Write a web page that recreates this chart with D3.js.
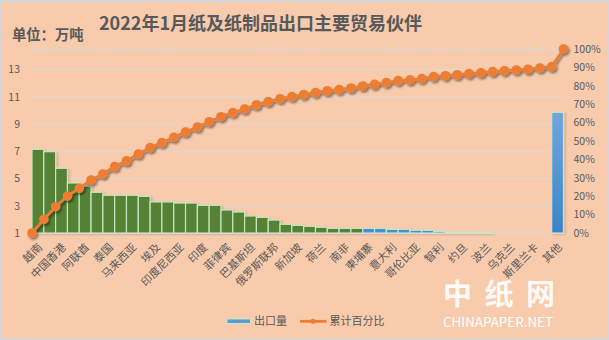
<!DOCTYPE html>
<html><head><meta charset="utf-8">
<script src="https://cdn.jsdelivr.net/npm/d3@7/dist/d3.min.js"></script>
<style>
html,body{margin:0;padding:0;background:#f8cbad;}
svg{display:block;}
text{font-family:"Noto Sans CJK SC","Noto Sans",sans-serif;}
</style></head>
<body>
<svg id="c" width="609" height="340"></svg>
<script>
const categories = ["越南","澳大利亚","中国香港","日本","阿联酋","韩国","泰国","沙特阿拉伯","马来西亚","英国",
  "埃及","孟加拉国","印度尼西亚","缅甸","印度","尼日利亚","菲律宾","加纳","巴基斯坦","土耳其",
  "俄罗斯联邦","墨西哥","新加坡","秘鲁","荷兰","肯尼亚","南非","伊拉克","柬埔寨","坦桑尼亚",
  "意大利","加拿大","哥伦比亚","德国","智利","新西兰","约旦","危地马拉","波兰","巴拿马",
  "乌克兰","阿曼","斯里兰卡","科威特","其他"];
const exportVol = [7.14,6.97,5.75,4.67,4.43,3.99,3.77,3.77,3.77,3.69,
  3.28,3.28,3.2,3.2,3.03,3.03,2.69,2.54,2.25,2.15,
  1.95,1.64,1.56,1.49,1.42,1.34,1.34,1.34,1.34,1.34,
  1.27,1.27,1.2,1.2,1.12,1.05,1.05,1.05,1.05,0.9,
  0.85,0.8,0.75,0.7,9.86];
const cumPct = [0,7.4,14.3,20.1,24.3,28.8,32.1,36.1,39.2,42.9,
  46.4,49.1,52.0,54.9,57.6,60.5,63.2,65.4,67.4,69.7,
  71.4,73.0,74.1,75.2,76.3,77.3,77.9,78.8,79.9,80.8,
  81.7,82.8,83.2,83.9,85.0,85.5,86.0,86.6,87.1,87.7,
  88.2,88.6,89.0,89.7,90.4,100];
const leftTicks = [1,3,5,7,9,11,13];
const rightTicks = [0,10,20,30,40,50,60,70,80,90,100];
const titleText = "2022年1月纸及纸制品出口主要贸易伙伴";
const unitText = "单位：万吨";
const legendNames = ["出口量","累计百分比"];

const svg = d3.select("#c");
const L = 32, R = 563.5, T = 48, B = 233;

const defs = svg.append("defs");
const sh = defs.append("filter").attr("id","sh").attr("x","-20%").attr("y","-20%").attr("width","140%").attr("height","140%");
sh.append("feDropShadow").attr("dx",1.5).attr("dy",2).attr("stdDeviation",1.3).attr("flood-color","#000").attr("flood-opacity",0.45);
const sb = defs.append("filter").attr("id","sb").attr("x","-20%").attr("y","-20%").attr("width","140%").attr("height","140%");
sb.append("feDropShadow").attr("dx",1.5).attr("dy",1).attr("stdDeviation",1).attr("flood-color","#000").attr("flood-opacity",0.18);
const gr = defs.append("linearGradient").attr("id","gb").attr("x1",0).attr("y1",0).attr("x2",0).attr("y2",1);
gr.append("stop").attr("offset","0%").attr("stop-color","#70a7dd");
gr.append("stop").attr("offset","100%").attr("stop-color","#3b84c8");

svg.append("rect").attr("x",1).attr("y",1).attr("width",607).attr("height",338)
  .attr("fill","#f8cbad").attr("stroke","#d3d6da").attr("stroke-width",2);

const x = d3.scaleBand().domain(categories).range([L,R]).padding(0);
const xEdge = d3.scalePoint().domain(d3.range(cumPct.length)).range([L,R]);
const y = d3.scaleLinear().domain([1,14.58]).range([B,T]);
const yP = d3.scaleLinear().domain([0,100]).range([B,49]);

// gridlines
svg.append("g").selectAll("line").data(leftTicks.filter(d=>d>1)).join("line")
  .attr("x1",L).attr("x2",R).attr("y1",d=>y(d)).attr("y2",d=>y(d))
  .attr("stroke","#dcd9d6").attr("stroke-width",1.2);

// left axis
const ya = svg.append("g").attr("transform",`translate(${L},0)`)
  .call(d3.axisLeft(y).tickValues(leftTicks).tickSize(0).tickPadding(12));
ya.select(".domain").remove();
ya.selectAll("text").attr("fill","#595959").attr("font-size",10.5).attr("font-family","'Noto Sans',sans-serif");

// right axis
const yr = svg.append("g").attr("transform",`translate(${R},0)`)
  .call(d3.axisRight(yP).tickValues(rightTicks).tickSize(0).tickPadding(10).tickFormat(d=>d+"%"));
yr.select(".domain").remove();
yr.selectAll("text").attr("fill","#595959").attr("font-size",10.5).attr("font-family","'Noto Sans',sans-serif");

// top secondary axis
const ta = svg.append("g").attr("transform",`translate(0,49)`)
  .call(d3.axisTop(xEdge).tickSize(3).tickFormat(""));
ta.select(".domain").attr("stroke","#d9d9d9");
ta.selectAll(".tick line").attr("stroke","#d9d9d9");

// bars
const bars = svg.append("g").attr("filter","url(#sb)");
bars.selectAll("rect").data(categories.map((c,i)=>({c,v:exportVol[i],i})).filter(d=>d.v>1)).join("rect")
  .attr("x",d=>x(d.c)).attr("width",x.bandwidth())
  .attr("y",d=>y(d.v)).attr("height",d=>y(1)-y(d.v))
  .attr("fill",d=>d.i<28?"#548235":(d.c==="其他"?"url(#gb)":"#4a8fd4"))
  .attr("stroke","#c5e8bf").attr("stroke-width",1.2);

// bottom axis line
svg.append("line").attr("x1",L).attr("x2",R).attr("y1",B+0.5).attr("y2",B+0.5).attr("stroke","#d9d9d9");

// bottom labels
svg.append("g").selectAll("text").data(categories.filter((c,i)=>i%2===0)).join("text")
  .attr("transform",d=>`translate(${x(d)+x.bandwidth()/2+5},248) rotate(-45)`)
  .attr("text-anchor","end").attr("font-size",11).attr("fill","#595959").text(d=>d);

// line
const lg = svg.append("g").attr("filter","url(#sh)");
lg.append("path").datum(cumPct)
  .attr("d",d3.line().x((d,i)=>xEdge(i)).y(d=>yP(d)))
  .attr("fill","none").attr("stroke","#ed7d31").attr("stroke-width",2.8);
lg.selectAll("circle").data(cumPct).join("circle")
  .attr("cx",(d,i)=>xEdge(i)).attr("cy",d=>yP(d)).attr("r",4.8).attr("fill","#ed7d31");

// title
svg.append("text").attr("x",260.5).attr("y",30).attr("text-anchor","middle")
  .attr("font-size",18).attr("font-weight","bold").attr("fill","#595959").text(titleText);
svg.append("text").attr("x",12).attr("y",40)
  .attr("font-size",14.3).attr("font-weight","bold").attr("fill","#595959").text(unitText);

// legend
svg.append("rect").attr("x",227).attr("y",319).attr("width",23.5).attr("height",4.5)
  .attr("fill","#5b9bd5").attr("stroke","#c5e8bf").attr("stroke-width",1);
svg.append("text").attr("x",254).attr("y",325).attr("font-size",11).attr("fill","#595959").text(legendNames[0]);
svg.append("line").attr("x1",300).attr("x2",326.5).attr("y1",321.3).attr("y2",321.3)
  .attr("stroke","#ed7d31").attr("stroke-width",2.8);
svg.append("circle").attr("cx",313).attr("cy",321.3).attr("r",2.5).attr("fill","#ed7d31");
svg.append("text").attr("x",329.5).attr("y",325).attr("font-size",11).attr("fill","#595959").text(legendNames[1]);

// watermark
svg.append("text").attr("x",443).attr("y",305).attr("font-size",29).attr("font-weight","bold")
  .attr("fill","#ffffff").attr("fill-opacity",0.92).attr("textLength",112).attr("lengthAdjust","spacing").text("中纸网");
svg.append("text").attr("x",443).attr("y",327).attr("font-size",12.5)
  .attr("font-family","'Liberation Sans',Arial,sans-serif")
  .attr("fill","#ffffff").attr("textLength",110).attr("lengthAdjust","spacingAndGlyphs").text("CHINAPAPER.NET");
</script>
</body></html>
